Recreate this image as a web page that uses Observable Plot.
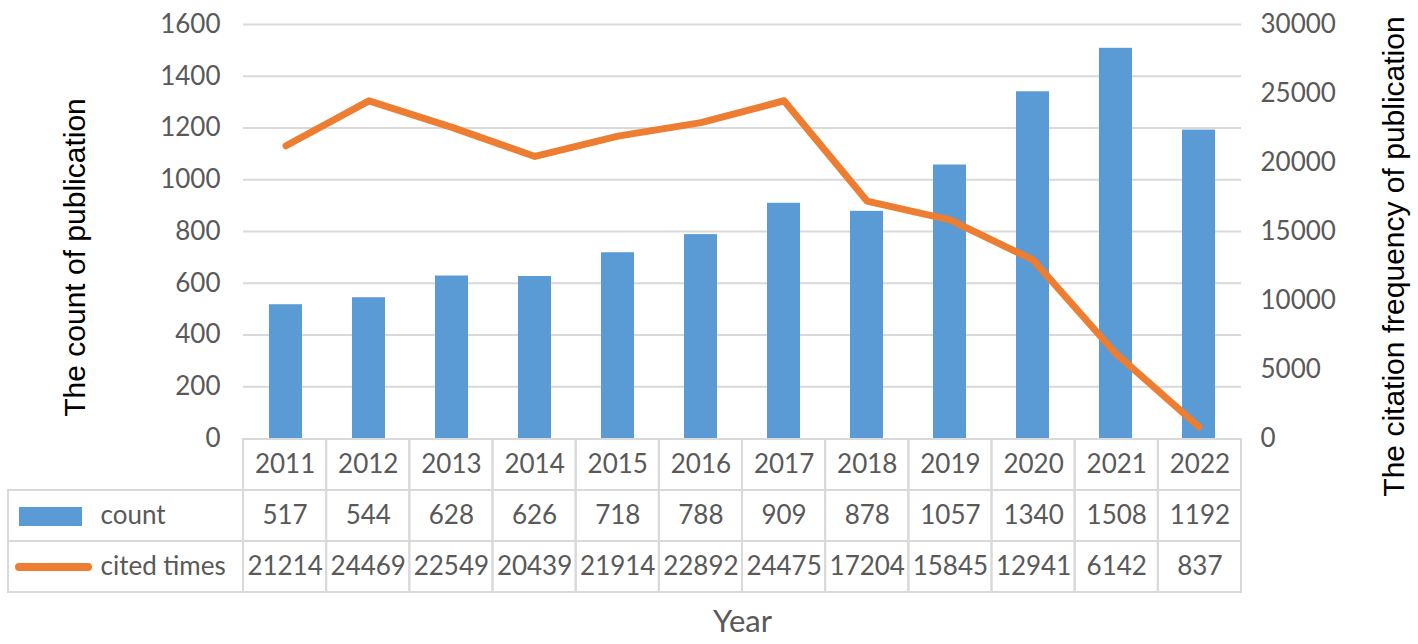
<!DOCTYPE html>
<html><head><meta charset="utf-8">
<script src="https://cdn.jsdelivr.net/npm/d3@7"></script>
<script src="https://cdn.jsdelivr.net/npm/@observablehq/plot@0.6"></script>
<style>
body{margin:0;background:#fff;}
#wrap{position:relative;width:1418px;height:644px;overflow:hidden;background:#fff;}
#wrap svg{position:absolute;left:0;}
</style></head><body><div id="wrap"></div>
<script>
const years = ["2011","2012","2013","2014","2015","2016","2017","2018","2019","2020","2021","2022"];
const counts = [517,544,628,626,718,788,909,878,1057,1340,1508,1192];
const cited = [21214,24469,22549,20439,21914,22892,24475,17204,15845,12941,6142,837];
const leftTicks = [0,200,400,600,800,1000,1200,1400,1600];
const rightTicks = [0,5000,10000,15000,20000,25000,30000];
const seriesLabels = {count: "count", cited: "cited times"};
const leftTitle = "The count of publication";
const rightTitle = "The citation frequency of publication";
const xTitle = "Year";

const data = years.map((y, i) => ({year: y, count: counts[i], cited: cited[i]}));
const leftMax = 1600, rightMax = 30000;
const toLeft = v => v * leftMax / rightMax;

const W = 1418, L = 243, R = 177, TOP = 24, BASE = 438;
const tickFont = "Lato, 'Open Sans', sans-serif";
const titleFont = "'Liberation Sans', Arial, sans-serif";
const grey = "#595959";
const blue = "#5B9BD5", orange = "#ED7D31", gridC = "#d9d9d9";

const chart = Plot.plot({
  width: W, height: BASE + 22, marginTop: TOP, marginBottom: 22, marginLeft: L, marginRight: R,
  style: {background: "transparent", overflow: "visible"},
  x: {domain: years, paddingInner: 0.6, paddingOuter: 0.3, axis: null},
  y: {domain: [0, leftMax], axis: null},
  marks: [
    Plot.ruleY(leftTicks.slice(1), {y: d => d, stroke: gridC, strokeWidth: 2}),
    Plot.barY(data, {x: "year", y: "count", fill: blue}),
    Plot.line(data, {x: "year", y: d => toLeft(d.cited), stroke: orange, strokeWidth: 7, strokeLinecap: "round", strokeLinejoin: "round"}),
    Plot.text(leftTicks, {y: d => d, text: d => String(d), frameAnchor: "left", textAnchor: "end", dx: -23, fontSize: 26, fontFamily: tickFont, fill: grey}),
    Plot.text(rightTicks, {y: d => toLeft(d), text: d => String(d), frameAnchor: "right", textAnchor: "start", dx: 19, fontSize: 26, fontFamily: tickFont, fill: grey}),
    Plot.text([leftTitle], {text: d => d, frameAnchor: "left", textAnchor: "middle", rotate: -90, dx: -168, dy: 26, fontSize: 30, fontFamily: titleFont, fill: "#000"}),
    Plot.text([rightTitle], {text: d => d, frameAnchor: "right", textAnchor: "middle", rotate: -90, dx: 153, dy: 25, fontSize: 30, fontFamily: titleFont, fill: "#000"})
  ]
});
chart.style.top = "0px";

const step = (W - L - R) / years.length;
const tableLeft = 8;
const ux = px => (px - L) / step;
const legendUnits = (L - tableLeft) / step;
const rows = ["year", "count", "cited"];
const cellData = [];
years.forEach((y, i) => rows.forEach(r => cellData.push({
  i, row: r, text: r === "year" ? y : r === "count" ? String(counts[i]) : String(cited[i])
})));
const legendRows = ["count", "cited"];
const TH = 644 - (BASE - 1);

const table = Plot.plot({
  width: W, height: TH, marginTop: 1, marginBottom: TH - 156, marginLeft: tableLeft, marginRight: R,
  style: {background: "transparent", overflow: "visible"},
  x: {type: "linear", domain: [-legendUnits, years.length], axis: null},
  y: {domain: rows, padding: 0, axis: null},
  marks: [
    Plot.barX(cellData, {x1: d => d.i, x2: d => d.i + 1, y: "row", fill: "none", stroke: gridC, strokeWidth: 2}),
    Plot.barX(legendRows, {x1: -legendUnits, x2: 0, y: d => d, fill: "none", stroke: gridC, strokeWidth: 2}),
    Plot.barX(["count"], {x1: ux(19), x2: ux(82), y: d => d, fill: blue, insetTop: 17, insetBottom: 15}),
    Plot.ruleY(["cited"], {y: d => d, x1: ux(19), x2: ux(88), stroke: orange, strokeWidth: 8, strokeLinecap: "round"}),
    Plot.text(legendRows, {x: ux(100), y: d => d, text: d => seriesLabels[d], textAnchor: "start", fontSize: 26, fontFamily: tickFont, fill: grey}),
    Plot.text(cellData, {x: d => d.i + 0.5, y: "row", text: "text", fontSize: 26, fontFamily: tickFont, fill: grey}),
    Plot.text([xTitle], {text: d => d, x: years.length / 2, frameAnchor: "bottom", dy: 38, fontSize: 31, fontFamily: tickFont, fill: grey})
  ]
});
table.style.top = (BASE - 1) + "px";

const wrap = document.getElementById("wrap");
wrap.appendChild(table);
wrap.appendChild(chart);
</script>
</body></html>
